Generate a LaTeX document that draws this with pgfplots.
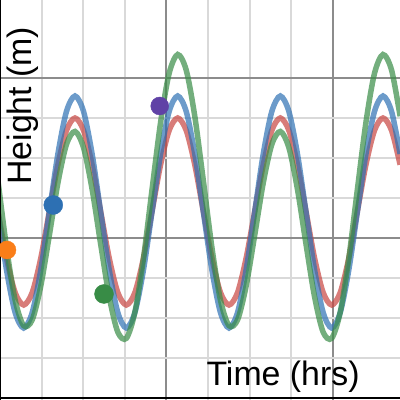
\documentclass[border=0pt]{standalone}
\usepackage{pgfplots}
\usepackage{pgfplotstable}
\usepackage{fontspec}
\setmainfont{Liberation Sans}
\pgfplotsset{compat=1.18}

\definecolor{dred}{HTML}{C74440}
\definecolor{dblue}{HTML}{2D70B3}
\definecolor{dgreen}{HTML}{388C46}
\definecolor{dpurple}{HTML}{6042A6}
\definecolor{dorange}{HTML}{FA7E19}

% x in minor grid units, heights in minor grid units
\pgfplotstableread{
x      red    blue   green
-0.048 4.663  4.65   5.430
0.157  3.494  3.20   3.761
0.363  2.638  2.139  2.452
0.569  2.325  1.75   1.808
0.775  2.638  2.139  1.954
0.980  3.494  3.20   2.800
1.186  4.663  4.65   4.068
1.392  5.831  6.10   5.377
1.597  6.687  7.161  6.337
1.803  7.00   7.55   6.663
2.009  6.687  7.161  6.255
2.214  5.831  6.10   5.220
2.420  4.663  4.65   3.846
2.626  3.494  3.20   2.527
2.831  2.638  2.139  1.649
3.037  2.325  1.75   1.492
3.243  2.638  2.139  2.148
3.448  3.494  3.20   3.488
3.654  4.663  4.65   5.207
3.860  5.831  6.10   6.887
4.065  6.687  7.161  8.113
4.271  7.00   7.55   8.587
4.477  6.687  7.161  8.195
4.682  5.831  6.10   7.044
4.888  4.663  4.65   5.430
5.094  3.494  3.20   3.761
5.299  2.638  2.139  2.452
5.505  2.325  1.75   1.808
5.711  2.638  2.139  1.954
5.916  3.494  3.20   2.800
6.122  4.663  4.65   4.068
6.328  5.831  6.10   5.377
6.533  6.687  7.161  6.337
6.739  7.00   7.55   6.663
6.945  6.687  7.161  6.255
7.150  5.831  6.10   5.220
7.356  4.663  4.65   3.846
7.562  3.494  3.20   2.527
7.767  2.638  2.139  1.649
7.973  2.325  1.75   1.492
8.179  2.638  2.139  2.148
8.384  3.494  3.20   3.488
8.590  4.663  4.65   5.207
8.796  5.831  6.10   6.887
9.001  6.687  7.161  8.113
9.207  7.00   7.55   8.587
9.413  6.687  7.161  8.195
9.618  5.831  6.10   7.044
}\tides

\begin{document}
\begin{tikzpicture}
\begin{axis}[
    scale only axis,
    width=400bp, height=400bp,
    xmin=0, xmax=9.615,
    ymin=-0.05, ymax=9.95,
    xtick={0,4,8}, ytick={0,4,8},
    minor x tick num=3, minor y tick num=3,
    xticklabels={}, yticklabels={},
    major tick length=0pt, minor tick length=0pt,
    grid=both,
    minor grid style={draw=black!15, line width=2bp},
    major grid style={draw=black!45, line width=2bp},
    axis line style={draw=none},
]
\addplot[smooth, draw=dred, opacity=0.7, line width=5.5bp] table[x=x, y=red] {\tides};
\addplot[smooth, draw=dblue, opacity=0.7, line width=5.5bp] table[x=x, y=blue] {\tides};
\addplot[smooth, draw=dgreen, opacity=0.7, line width=5.5bp] table[x=x, y=green] {\tides};

\addplot[only marks, mark=*, mark size=9bp, color=dorange] coordinates {(0.168, 3.70)};
\addplot[only marks, mark=*, mark size=9.5bp, color=dblue] coordinates {(1.281, 4.825)};
\addplot[only marks, mark=*, mark size=9.5bp, color=dgreen] coordinates {(2.50, 2.60)};
\addplot[only marks, mark=*, mark size=9bp, color=dpurple] coordinates {(3.839, 7.30)};

\draw[black, line width=2.5bp] (axis cs:0,-0.05) -- (axis cs:0,9.95);
\draw[black, line width=2.5bp] (axis cs:0,0) -- (axis cs:9.615,0);

\node[rotate=90, anchor=base west, inner sep=0pt, font=\fontsize{34}{40}\selectfont]
    at (axis cs:0.762,5.325) {Height (m)};
\node[anchor=base west, inner sep=0pt, font=\fontsize{34}{40}\selectfont]
    at (axis cs:4.96,0.30) {Time (hrs)};
\end{axis}
\pgfresetboundingbox
\path (current axis.south west) rectangle (current axis.north east);
\end{tikzpicture}
\end{document}
